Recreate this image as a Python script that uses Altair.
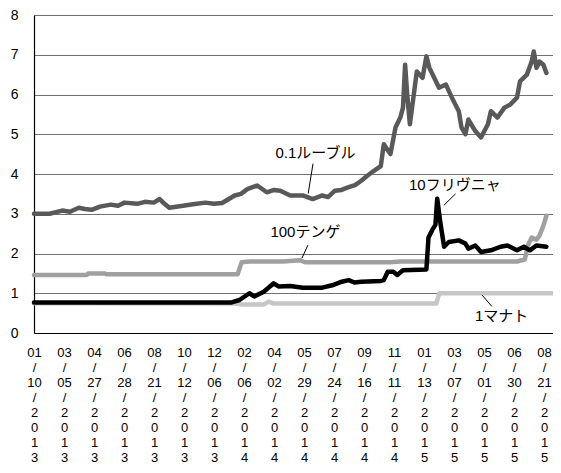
import altair as alt
import pandas as pd

FONT = "Liberation Sans, Noto Sans CJK JP, sans-serif"

# x positions are category index (labels every 10 categories)
tick_labels = ["01/10/2013", "03/05/2013", "04/27/2013", "06/28/2013", "08/21/2013",
               "10/12/2013", "12/06/2013", "02/06/2014", "04/02/2014", "05/29/2014",
               "07/24/2014", "09/16/2014", "11/11/2014", "01/13/2015", "03/07/2015",
               "05/01/2015", "06/30/2015", "08/21/2015"]

rub_x = [0, 5.2, 9.4, 12, 14.9, 17, 19.2, 22, 25.6, 28, 30.2, 34.4, 37, 39.9, 41.9, 43.5, 45.1, 49.7, 53, 57.1,
         60, 62.7, 66.9, 69, 71.1, 74.4, 77.6, 80, 82.1, 85.4, 89.6, 92.9, 96.1, 98, 100.3, 102.5, 104.9, 107, 109.1,
         111, 113.3, 115.6, 116.6, 118.8, 120.5, 122.1, 123, 123.7, 124.4, 125.3, 127.6, 129.5,
         130.8, 131.8, 133.4, 135, 137.3, 139.3, 141.6, 142.5, 143.8, 144.8, 147.1, 149,
         151.3, 152.3, 154.5, 156.8, 158.8, 161, 162, 164.3, 165.9, 166.6, 167.5, 168.5,
         169.8, 170.8]
rub_y = [3.0, 3.0, 3.08, 3.05, 3.15, 3.12, 3.1, 3.18, 3.23, 3.2, 3.28, 3.25, 3.3, 3.28, 3.37, 3.25, 3.15, 3.2, 3.24, 3.28,
         3.25, 3.27, 3.46, 3.5, 3.62, 3.71, 3.54, 3.6, 3.58, 3.46, 3.46, 3.37, 3.46, 3.42, 3.58, 3.6, 3.67, 3.72, 3.83,
         3.95, 4.08, 4.2, 4.75, 4.5, 5.17, 5.42, 5.67, 6.75, 6.0, 5.25, 6.58, 6.42,
         6.96, 6.67, 6.42, 6.17, 6.25, 5.92, 5.58, 5.17, 5.0, 5.37, 5.08, 4.92,
         5.25, 5.58, 5.42, 5.67, 5.75, 5.92, 6.33, 6.5, 6.83, 7.08, 6.67, 6.83,
         6.75, 6.54]

hry_x = [0, 65.9, 68.5, 71.8, 73.4, 76.6, 79.9, 81.5, 85.4, 89.6, 96.1, 99.4, 102.6, 104.9,
         106.8, 109.1, 115.6, 116.6, 117.9, 119.8, 121.1, 123, 130.8, 131.5, 132.8, 133.8,
         134.4, 135.4, 136.7, 138.3, 141.6, 143.8, 144.8, 147.1, 149, 152.3, 155.5, 157.8,
         161, 163.3, 165.3, 167.5, 170.8]
hry_y = [0.77, 0.77, 0.83, 1.0, 0.92, 1.04, 1.25, 1.17, 1.18, 1.14, 1.14, 1.2, 1.29, 1.33,
         1.27, 1.29, 1.31, 1.33, 1.54, 1.54, 1.46, 1.58, 1.6, 2.4, 2.6, 2.72,
         3.38, 2.8, 2.17, 2.29, 2.33, 2.25, 2.12, 2.2, 2.04, 2.08, 2.17, 2.2,
         2.08, 2.17, 2.08, 2.2, 2.17]

ten_x = [0, 17.5, 18.2, 23.7, 24, 67.9, 69.2, 71.8, 83.1, 88.6, 90.3, 118.8, 122, 161,
         163.6, 164.6, 165.9, 167.5, 168.5, 169.8, 170.8]
ten_y = [1.46, 1.46, 1.5, 1.5, 1.48, 1.48, 1.78, 1.8, 1.8, 1.83, 1.78, 1.78, 1.8, 1.8,
         1.85, 2.2, 2.4, 2.35, 2.45, 2.7, 2.95]

man_x = [0, 66.9, 69, 76.6, 78.2, 79.9, 134.1, 135.1, 173]
man_y = [0.75, 0.74, 0.72, 0.72, 0.79, 0.74, 0.74, 1.0, 1.0]

series_names = ["1マナト", "100テンゲ", "0.1ルーブル", "10フリヴニャ"]
series_colors = ["#c6c6c6", "#a0a0a0", "#595959", "#000000"]
series_widths = [4.5, 4.5, 6, 5.5]

ann_text = ["0.1ルーブル", "10フリヴニャ", "100テンゲ", "1マナト"]
ann_x = [80.5, 125.0, 78.8, 147.0]
ann_y = [4.53, 3.72, 2.54, 0.42]
lead_x1 = [93.0, 140.5, 91.3, 149.3]
lead_y1 = [4.26, 3.50, 2.21, 0.96]
lead_x2 = [91.4, 136.6, 89.3, 152.6]
lead_y2 = [3.51, 3.21, 1.88, 0.67]

rows = []
for name, xs, ys in [("1マナト", man_x, man_y), ("100テンゲ", ten_x, ten_y),
                     ("0.1ルーブル", rub_x, rub_y), ("10フリヴニャ", hry_x, hry_y)]:
    for k, (a, b) in enumerate(zip(xs, ys)):
        rows.append({"s": name, "i": a, "v": b, "k": k})
df = pd.DataFrame(rows)

lab_arr = "[" + ",".join("'" + "|".join([t[0:2], "/", t[3:5], "/"] + list(t[6:])) + "'" for t in tick_labels) + "]"
label_expr = "split(" + lab_arr + "[round(datum.value/10)], '|')"

xscale = alt.Scale(domain=[0, 173], nice=False, zero=False)
yscale = alt.Scale(domain=[0, 8], nice=False)

x_axis = alt.Axis(values=[i * 10 for i in range(len(tick_labels))], labelExpr=label_expr,
                  grid=False, ticks=False, domain=True, domainColor="#000000", domainWidth=1.2,
                  labelFont=FONT, labelFontSize=13, labelColor="#000000", labelLineHeight=15,
                  labelPadding=13, labelBaseline="top", labelOverlap=False, labelFlush=False,
                  title=None)
y_axis = alt.Axis(values=list(range(9)), grid=True, gridColor="#707070", gridWidth=1.2,
                  ticks=False, domain=True, domainColor="#000000", domainWidth=1.2,
                  labelFont=FONT, labelFontSize=14, labelColor="#000000", labelPadding=16,
                  labelOverlap=False, title=None)

lines = alt.Chart(df).mark_line(interpolate="linear", strokeJoin="round", strokeCap="round").encode(
    x=alt.X("i:Q", scale=xscale, axis=x_axis),
    y=alt.Y("v:Q", scale=yscale, axis=y_axis),
    color=alt.Color("s:N", scale=alt.Scale(domain=series_names, range=series_colors), legend=None),
    strokeWidth=alt.StrokeWidth("s:N", scale=alt.Scale(domain=series_names, range=series_widths), legend=None),
    order="k:Q",
    detail="s:N",
)

ann_df = pd.DataFrame({"t": ann_text, "x": ann_x, "y": ann_y,
                       "x1": lead_x1, "y1": lead_y1, "x2": lead_x2, "y2": lead_y2})

texts = alt.Chart(ann_df).mark_text(align="left", baseline="middle", font=FONT,
                                    fontSize=15, color="#000000").encode(
    x=alt.X("x:Q", scale=xscale, axis=x_axis), y=alt.Y("y:Q", scale=yscale, axis=y_axis), text="t:N")

leaders = alt.Chart(ann_df).mark_rule(color="#000000", strokeWidth=1).encode(
    x=alt.X("x1:Q", scale=xscale, axis=x_axis), y=alt.Y("y1:Q", scale=yscale, axis=y_axis),
    x2="x2:Q", y2="y2:Q")

chart = alt.layer(lines, leaders, texts).properties(
    width=519, height=318,
    autosize=alt.AutoSizeParams(type="none"),
    padding={"left": 26, "top": 7, "right": 0, "bottom": 132},
).configure_view(stroke=None).configure(background="#ffffff")

chart.save("out.html", embed_options={"renderer": "svg", "actions": False})
